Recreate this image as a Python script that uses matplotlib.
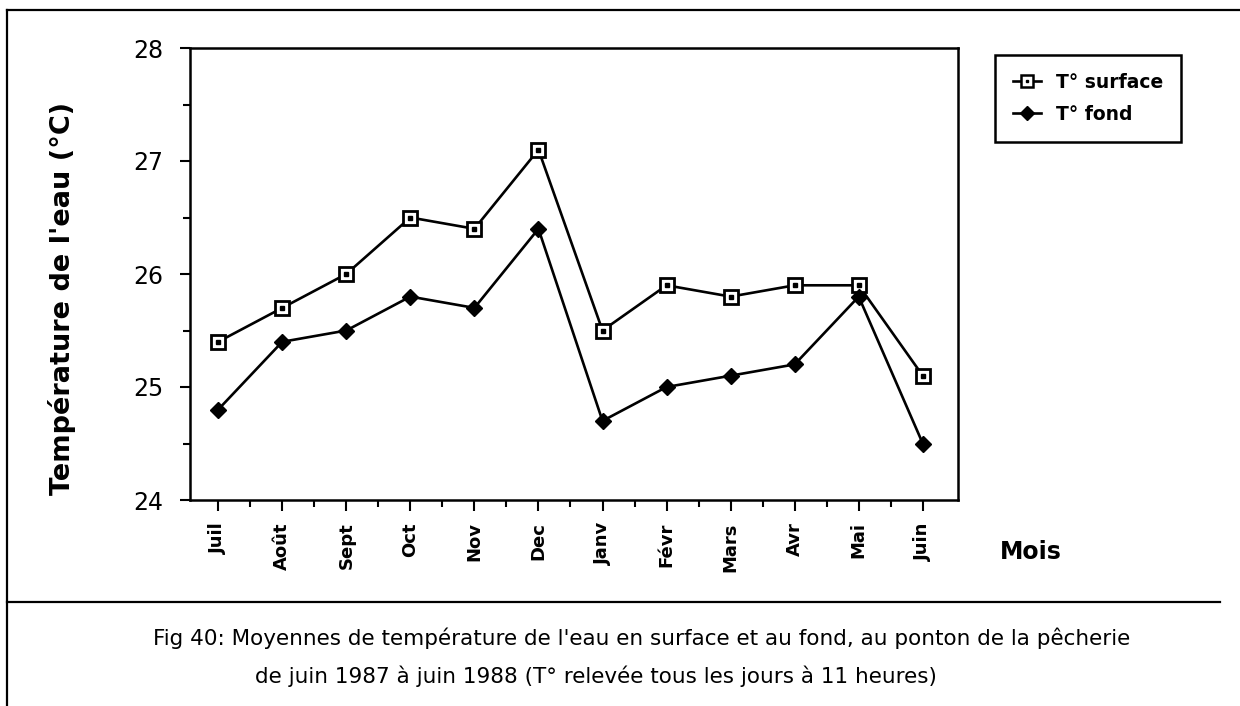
import numpy as np
import matplotlib.pyplot as plt
from matplotlib.lines import Line2D
from matplotlib.legend_handler import HandlerTuple
from matplotlib.ticker import MultipleLocator

# Moyennes mensuelles, juin 1987 - juin 1988
mois = ['Juil', 'Août', 'Sept', 'Oct', 'Nov', 'Dec',
        'Janv', 'Févr', 'Mars', 'Avr', 'Mai', 'Juin']
t_surface = [25.4, 25.7, 26.0, 26.5, 26.4, 27.1, 25.5, 25.9, 25.8, 25.9, 25.9, 25.1]
t_fond = [24.8, 25.4, 25.5, 25.8, 25.7, 26.4, 24.7, 25.0, 25.1, 25.2, 25.8, 24.5]

plt.rcParams['font.family'] = 'DejaVu Sans'

fig = plt.figure(figsize=(12.4, 7.06), dpi=100)
fig.patch.set_facecolor('white')
ax = fig.add_axes([190/1240, 1 - 500/706, 768/1240, 452/706])

x = np.arange(len(mois))
lw = 1.9
ax.plot(x, t_surface, color='black', lw=lw, marker='s', ms=10,
        mfc='white', mec='black', mew=2, zorder=3)
ax.plot(x, t_surface, ls='none', marker='s', ms=2.5, color='black', zorder=4)
ax.plot(x, t_fond, color='black', lw=lw, marker='D', ms=8,
        mfc='black', mec='black', zorder=3)

ax.set_xlim(-0.44, 11.55)
ax.set_ylim(24, 28)
ax.yaxis.set_major_locator(MultipleLocator(1))
ax.yaxis.set_minor_locator(MultipleLocator(0.5))
ax.set_xticks(x)
ax.set_xticks(x[:-1] + 0.5, minor=True)
ax.set_xticklabels(mois, rotation=90, fontsize=13, fontweight='bold')
ax.tick_params(axis='y', which='major', length=7, width=1.5, labelsize=17, pad=12)
ax.tick_params(axis='y', which='minor', length=5, width=1.5)
ax.tick_params(axis='x', which='major', length=8, width=1.5, pad=8)
ax.tick_params(axis='x', which='minor', length=5, width=1.5)
for s in ax.spines.values():
    s.set_linewidth(1.8)

fig.text(62/1240, 1 - 298/706, "Température de l'eau (°C)", rotation=90,
         ha='center', va='center', fontsize=19.5, fontweight='heavy')
fig.text(1000/1240, 1 - 552/706, 'Mois', ha='left', va='center',
         fontsize=17, fontweight='bold')

# legende
h_surf = (Line2D([], [], color='black', lw=lw, marker='s', ms=8,
                 mfc='white', mec='black', mew=1.8),
          Line2D([], [], ls='none', marker='s', ms=2, color='black'))
h_fond = Line2D([], [], color='black', lw=lw, marker='D', ms=7.5, mfc='black')
leg = fig.legend([h_surf, h_fond], ['T° surface', 'T° fond'],
                 handler_map={tuple: HandlerTuple(ndivide=1)},
                 loc='upper left', bbox_to_anchor=(995/1240, 1 - 55/706),
                 fancybox=False, edgecolor='black', framealpha=1,
                 handlelength=1.5, handletextpad=0.8, borderpad=0.95,
                 borderaxespad=0, labelspacing=0.7,
                 prop={'size': 13.5, 'weight': 'bold'})
leg.get_frame().set_linewidth(1.8)

# cadre et filet de la legende de figure
fig.add_artist(Line2D([7/1240, 7/1240], [0, 1 - 10/706], color='black', lw=1.6))
fig.add_artist(Line2D([7/1240, 1], [1 - 10/706, 1 - 10/706], color='black', lw=1.6))
fig.add_artist(Line2D([7/1240, 1220/1240], [1 - 602/706, 1 - 602/706], color='black', lw=1.6))

fig.text(642/1240, 1 - 638/706,
         "Fig 40: Moyennes de température de l'eau en surface et au fond, au ponton de la pêcherie",
         ha='center', va='center', fontsize=15.5)
fig.text(596/1240, 1 - 676/706,
         "de juin 1987 à juin 1988 (T° relevée tous les jours à 11 heures)",
         ha='center', va='center', fontsize=15.5)

fig.savefig('out.png', dpi=100, facecolor='white')
